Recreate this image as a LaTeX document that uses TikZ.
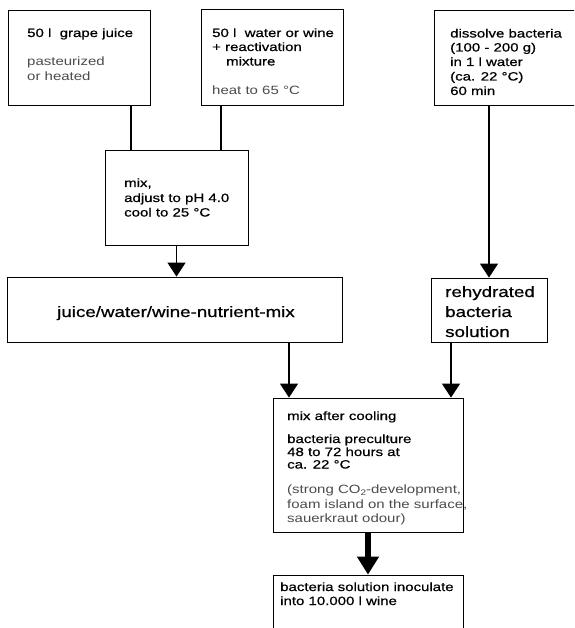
\documentclass[tikz,border=0pt]{standalone}
\usepackage{fontspec}
\setmainfont{Liberation Sans}[FakeStretch=1.25]
\newfontfamily\medfont{Liberation Sans}[FakeStretch=1.25, FakeBold=0.7]
\usetikzlibrary{arrows.meta}
\tikzset{
  box/.style={draw, line width=0.8pt, inner sep=0pt, fill=none},
  txt/.style={anchor=base west, inner sep=0pt, font=\medfont\fontsize{12}{14}\selectfont},
  lite/.style={anchor=base west, inner sep=0pt, font=\fontsize{12}{14}\selectfont, text=black!70},
  big/.style={inner sep=0pt, font=\medfont\fontsize{15}{18}\selectfont},
  conn/.style={line width=1.2pt},
  arr/.style={line width=1.3pt, -{Triangle[width=18pt,length=14pt]}},
  thickarr/.style={line width=5.5pt, -{Triangle[width=21pt,length=18pt]}}
}
\begin{document}
\begin{tikzpicture}[x=1pt,y=-1pt]
\clip (0,0) rectangle (574,628);
\fill[white] (0,0) rectangle (574,628);
% boxes
\node[box, minimum width=142pt, minimum height=95pt] (b1) at (79,57.5) {};
\node[box, minimum width=142pt, minimum height=96pt] (b2) at (272,57) {};
\node[box, minimum width=146pt, minimum height=95pt] (b3) at (507,57.5) {};
\node[box, minimum width=143pt, minimum height=95pt] (mix) at (176.5,197.5) {};
\node[box, minimum width=335pt, minimum height=65pt] (nut) at (174.5,309.5) {};
\node[box, minimum width=116pt, minimum height=64pt] (reh) at (489,310) {};
\node[box, minimum width=190pt, minimum height=134pt] (ma) at (368,465) {};
\node[box, minimum width=190pt, minimum height=80pt] (bot) at (368,615) {};
% column coordinates
\coordinate (xa) at (131,0);
\coordinate (xb) at (221,0);
\coordinate (xd) at (289,0);
\coordinate (xe) at (451,0);
% texts box 1
\node[txt] (t1a) at (27,37) {50 l\ \ grape juice};
\node[lite] (t1b) at (27,66) {pasteurized};
\node[lite] (t1c) at (27,81) {or heated};
% box 2
\node[txt] (t2a) at (212,37) {50 l\ \ water or wine};
\node[txt] (t2b) at (212,51) {+ reactivation};
\node[txt] (t2c) at (226,65.5) {mixture};
\node[lite] (t2d) at (212,95) {heat to 65 °C};
% box 3
\node[txt] (t3a) at (450,37.5) {dissolve bacteria};
\node[txt] (t3b) at (450,51.5) {(100 - 200 g)};
\node[txt] (t3c) at (450,66) {in 1 l water};
\node[txt] (t3d) at (450,80.5) {(ca. 22 °C)};
\node[txt] (t3e) at (450,95) {60 min};
% mix box
\node[txt] (t4a) at (124,187) {mix,};
\node[txt] (t4b) at (124,202) {adjust to pH 4.0};
\node[txt] (t4c) at (124,216.5) {cool to 25 °C};
% nutrient
\node[big, anchor=base] (t5) at (176,317) {juice/water/wine-nutrient-mix};
% rehydrated
\node[big, anchor=base west] (t6a) at (445,297) {rehydrated};
\node[big, anchor=base west] (t6b) at (445,317) {bacteria};
\node[big, anchor=base west] (t6c) at (445,337) {solution};
% mix after cooling
\node[txt] (t7a) at (287,420) {mix after cooling};
\node[txt] (t7b) at (287,443) {bacteria preculture};
\node[txt] (t7c) at (287,456) {48 to 72 hours at};
\node[txt] (t7d) at (287,468.5) {ca. 22 °C};
\node[lite] (t7e) at (287,493) {(strong CO\raisebox{-0.45ex}{\fontsize{8}{9}\selectfont 2}-development,};
\node[lite] (t7f) at (287,508) {foam island on the surface,};
\node[lite] (t7g) at (287,522) {sauerkraut odour)};
% bottom
\node[txt] (t8a) at (280,591) {bacteria solution inoculate};
\node[txt] (t8b) at (280,605) {into 10.000 l wine};
% connectors
\draw[conn] (b1.south -| xa) -- (mix.north -| xa);
\draw[conn] (b2.south -| xb) -- (mix.north -| xb);
\draw[arr] (mix.south) -- (mix.south |- nut.north);
\draw[arr] (b3.south -| reh.north) -- (reh.north);
\draw[arr] (nut.south -| xd) -- (ma.north -| xd);
\draw[arr] (reh.south -| xe) -- (ma.north -| xe);
\draw[thickarr] (ma.south) -- (ma.south |- bot.north);
\end{tikzpicture}
\end{document}
